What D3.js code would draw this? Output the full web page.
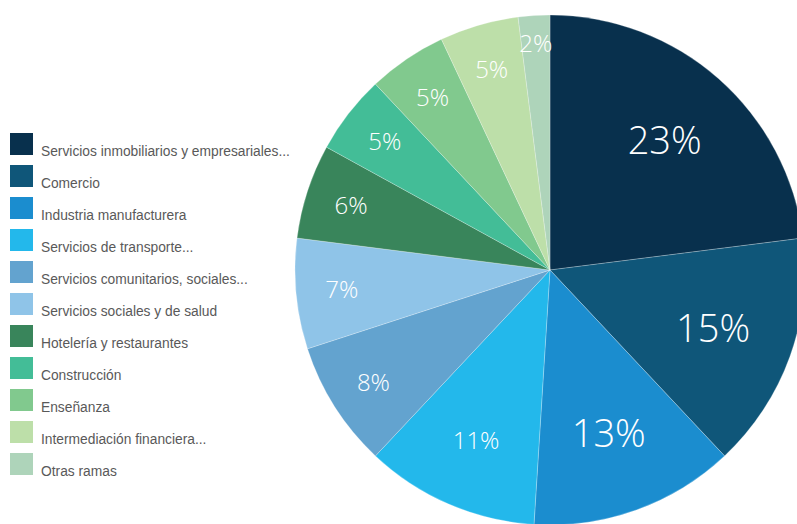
<!DOCTYPE html>
<html>
<head>
<meta charset="utf-8">
<script src="https://cdn.jsdelivr.net/npm/d3@7"></script>
<style>
  html, body { margin: 0; padding: 0; background: #fff; overflow: hidden; }
  svg { display: block; }
  .legend-text { font-family: "Liberation Sans Narrow", "Liberation Sans", sans-serif; fill: #595959; }
  .slice-label { font-family: "Open Sans", "Noto Sans", sans-serif; fill: #fff; text-anchor: middle; font-weight: 300; }
</style>
</head>
<body>
<div id="chart"></div>
<script>
////////////////////////////////////////////////////////////
//////////////////////// Data //////////////////////////////
////////////////////////////////////////////////////////////

var categories = [
	"Servicios inmobiliarios y empresariales...",
	"Comercio",
	"Industria manufacturera",
	"Servicios de transporte...",
	"Servicios comunitarios, sociales...",
	"Servicios sociales y de salud",
	"Hotelería y restaurantes",
	"Construcción",
	"Enseñanza",
	"Intermediación financiera...",
	"Otras ramas"
];

var shares = [23, 15, 13, 11, 8, 7, 6, 5, 5, 5, 2];

var colors = ["#08304d", "#0f5679", "#1b8dcf", "#23b8eb", "#63a3cf", "#8fc4e8",
	"#39855b", "#43bd97", "#81c98e", "#bddfa9", "#aed4ba"];

////////////////////////////////////////////////////////////
//////////////////////// Set-up ////////////////////////////
////////////////////////////////////////////////////////////

var width = 797,
	height = 524,
	cx = 550,
	cy = 270,
	radius = 255;

var svg = d3.select("#chart").append("svg")
	.attr("width", width)
	.attr("height", height);

var data = categories.map(function(d, i) { return {name: d, value: shares[i], color: colors[i]}; });

var pie = d3.pie()
	.sort(null)
	.value(function(d) { return d.value; });

var arc = d3.arc()
	.innerRadius(0)
	.outerRadius(radius);

////////////////////////////////////////////////////////////
///////////////////////// Pie //////////////////////////////
////////////////////////////////////////////////////////////

var pieWrapper = svg.append("g")
	.attr("transform", "translate(" + cx + "," + cy + ")");

var slices = pie(data);

pieWrapper.selectAll(".slice")
	.data(slices)
	.enter().append("path")
	.attr("class", "slice")
	.style("fill", function(d) { return d.data.color; })
	.style("stroke", "rgba(255,255,255,0.35)")
	.style("stroke-width", 0.7)
	.attr("d", arc);

//Big slices get a bigger label closer to the center
function labelSize(v) { return v >= 13 ? 38 : 24; }
function labelRadius(v) {
	if (v >= 13) return radius * 0.68;
	if (v >= 10) return radius * 0.73;
	if (v <= 2) return radius * 0.89;
	return radius * 0.82;
}

pieWrapper.selectAll(".slice-label")
	.data(slices)
	.enter().append("text")
	.attr("class", "slice-label")
	.attr("transform", function(d) {
		var r = labelRadius(d.data.value);
		var a = (d.startAngle + d.endAngle) / 2;
		return "translate(" + (r * Math.sin(a)) + "," + (-r * Math.cos(a)) + ")";
	})
	.attr("dy", "0.36em")
	.style("font-size", function(d) { return labelSize(d.data.value) + "px"; })
	.text(function(d) { return d.data.value + "%"; });

////////////////////////////////////////////////////////////
//////////////////////// Legend ////////////////////////////
////////////////////////////////////////////////////////////

var legend = svg.append("g")
	.attr("class", "legend")
	.attr("transform", "translate(10,133)");

var legendRow = legend.selectAll(".legend-row")
	.data(data)
	.enter().append("g")
	.attr("class", "legend-row")
	.attr("transform", function(d, i) { return "translate(0," + (i * 32) + ")"; });

legendRow.append("rect")
	.attr("width", 23)
	.attr("height", 22)
	.style("fill", function(d) { return d.color; });

//Condensed look: squeeze the text horizontally
legendRow.append("text")
	.attr("class", "legend-text")
	.attr("transform", "translate(31,23) scale(0.89,1)")
	.style("font-size", "15.5px")
	.text(function(d) { return d.name; });
</script>
</body>
</html>
